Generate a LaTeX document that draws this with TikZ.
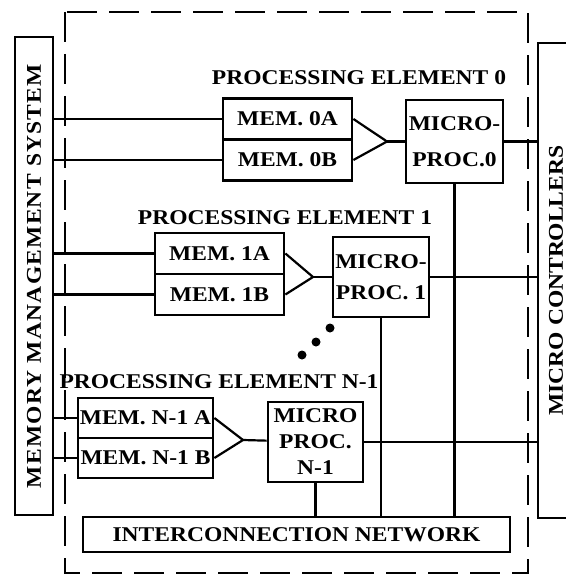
\documentclass[tikz,border=0pt]{standalone}
\usepackage{fontspec}
\setmainfont{Liberation Serif}[FakeStretch=1.12]
\begin{document}
\begin{tikzpicture}[x=1bp, y=-1bp, line width=2.2bp,
  font=\fontsize{21bp}{26bp}\selectfont\bfseries,
  box/.style={draw, line width=2.8bp, inner sep=0pt, align=center},
  membox/.style={box, minimum width=129bp, minimum height=41bp},
  procbox/.style={box, minimum width=96bp, minimum height=80bp}]
\useasboundingbox (0,0) rectangle (566,576);
% \node at (300,5) {Board};
\node[box, rotate=90, minimum width=478bp, minimum height=38bp] (Memory) at (34,276)
  {\addfontfeature{LetterSpace=6}MEMORY MANAGEMENT SYSTEM};
\node[box, rotate=90, minimum width=475bp, minimum height=36bp] (Controllers) at (556,280.5) {MICRO CONTROLLERS};
\draw[dash pattern=on 30bp off 12bp] (65,12) rectangle (528,573);

\node (Title 0) at (359,78) {PROCESSING ELEMENT 0};
\node[membox] (Mem 0A) at (287.5,119) {MEM. 0A};
\node[membox] (Mem 0B) at (287.5,160) {MEM. 0B};
\node[procbox, minimum width=97bp, minimum height=83bp] (Proc 0) at (454.5,141.5) {MICRO-\\[10bp]PROC.0};
\coordinate (Join 0) at (387,141.5);

\node (Title 1) at (285,218) {PROCESSING ELEMENT 1};
\node[membox] (Mem 1A) at (219.5,253.5) {MEM. 1A};
\node[membox] (Mem 1B) at (219.5,294.5) {MEM. 1B};
\node[procbox] (Proc 1) at (381,277) {MICRO-\\[5bp]PROC. 1};
\coordinate (Join 1) at (313,277);

\fill (302,355) circle (4.5bp);
\fill (316,342) circle (4.5bp);
\fill (330,328) circle (4.5bp);

\node (Title N) at (219,382) {PROCESSING ELEMENT N-1};
\node[membox, minimum width=135bp, minimum height=40bp] (Mem NA) at (145.5,418) {MEM. N-1 A};
\node[membox, minimum width=135bp, minimum height=40bp] (Mem NB) at (145.5,458) {MEM. N-1 B};
\node[procbox, minimum width=95bp] (Proc N) at (315.5,442) {MICRO\\PROC.\\N-1};
\coordinate (Join N) at (243,440);

\node[box, minimum width=427bp, minimum height=35bp] (Network) at (296.5,534.5) {INTERCONNECTION NETWORK};

\draw (Mem 0A.east) -- (Join 0) -- (Mem 0B.east);
\draw (Join 0) -- (Proc 0);
\draw (Mem 1A.east) -- (Join 1) -- (Mem 1B.east);
\draw (Join 1) -- (Proc 1);
\draw (Mem NA.east) -- (Join N) -- (Mem NB.east);
\draw (Join N) -- (Proc N);

\draw (Memory.south |- Mem 0A.west) -- (Mem 0A.west);
\draw (Memory.south |- Mem 0B.west) -- (Mem 0B.west);
\draw (Memory.south |- Mem 1A.west) -- (Mem 1A.west);
\draw (Memory.south |- Mem 1B.west) -- (Mem 1B.west);
\draw (Memory.south |- Mem NA.west) -- (Mem NA.west);
\draw (Memory.south |- Mem NB.west) -- (Mem NB.west);

\draw (Proc 0.east) -- (Proc 0.east -| Controllers.north);
\draw (Proc 1.east) -- (Proc 1.east -| Controllers.north);
\draw (Proc N.east) -- (Proc N.east -| Controllers.north);

\draw (Proc 0.south) -- (Proc 0.south |- Network.north);
\draw (Proc 1.south) -- (Proc 1.south |- Network.north);
\draw (Proc N.south) -- (Proc N.south |- Network.north);
\end{tikzpicture}
\end{document}
